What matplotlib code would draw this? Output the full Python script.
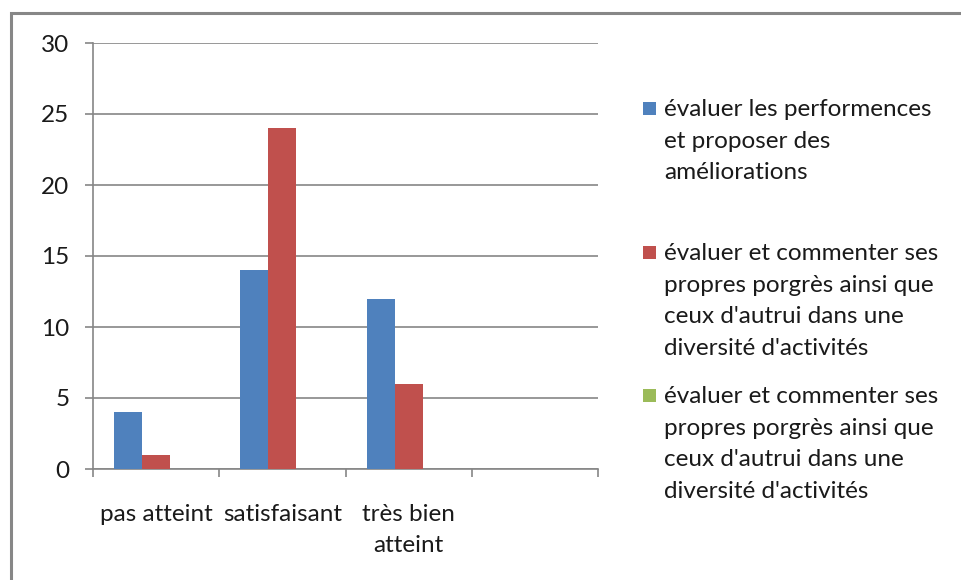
import numpy as np
import matplotlib.pyplot as plt
from matplotlib.patches import Rectangle

plt.rcParams['font.family'] = ['Lato', 'DejaVu Sans']

# données
categories = ['pas atteint', 'satisfaisant', 'très bien\natteint', '']
series_labels = [
    "évaluer les performences\net proposer des\naméliorations",
    "évaluer et commenter ses\npropres porgrès ainsi que\nceux d'autrui dans une\ndiversité d'activités",
    "évaluer et commenter ses\npropres porgrès ainsi que\nceux d'autrui dans une\ndiversité d'activités",
]
serie1 = [4, 14, 12, 0]
serie2 = [1, 24, 6, 0]
serie3 = [0, 0, 0, 0]
colors = ['#4F81BD', '#C0504D', '#9BBB59']

fs = 17.5
fig = plt.figure(figsize=(9.61, 5.8), dpi=100)
ax = fig.add_axes([93/961, 1-469/580, 505/961, 426/580])

# cadre du graphique
fig.patches.append(Rectangle((11/961, -0.1), 1.2, 1-13/580+0.1, transform=fig.transFigure,
                             fill=False, edgecolor='#878787', linewidth=2.2))

x = np.arange(len(categories)) + 0.5
w = 1/4.5
for i, vals in enumerate([serie1, serie2, serie3]):
    ax.bar(x + (i-1)*w, vals, width=w, color=colors[i], zorder=3)

ax.set_xlim(0, 4)
ax.set_ylim(0, 30)
ax.set_yticks(range(0, 31, 5))
ax.yaxis.grid(True, color='#868686', linewidth=1.2, zorder=0)
ax.set_xticks(range(0, 5))
ax.set_xticklabels([])
ax.set_xticks(x, minor=True)
ax.set_xticklabels(categories, minor=True, fontsize=fs, color='#1a1a1a', linespacing=1.63)
ax.tick_params(axis='x', which='major', length=6, width=1.2, color='#868686', direction='out')
ax.tick_params(axis='x', which='minor', length=0, pad=25)
ax.tick_params(axis='y', length=6, width=1.2, color='#868686', pad=11, labelsize=fs, labelcolor='#1a1a1a')
for s in ['top', 'right']:
    ax.spines[s].set_visible(False)
for s in ['left', 'bottom']:
    ax.spines[s].set_color('#868686')
    ax.spines[s].set_linewidth(1.2)

# légende
leg_y = [108, 252, 395]
for i, lab in enumerate(series_labels):
    yy = 1 - leg_y[i]/580
    fig.patches.append(Rectangle((643/961, yy - 6.5/580), 13/961, 13/580, transform=fig.transFigure,
                                 facecolor=colors[i], edgecolor='none'))
    fig.text(664/961, yy + 9/580, lab, fontsize=fs, color='#1a1a1a', va='top', ha='left',
             linespacing=1.63)

plt.savefig('out.png', dpi=100)
